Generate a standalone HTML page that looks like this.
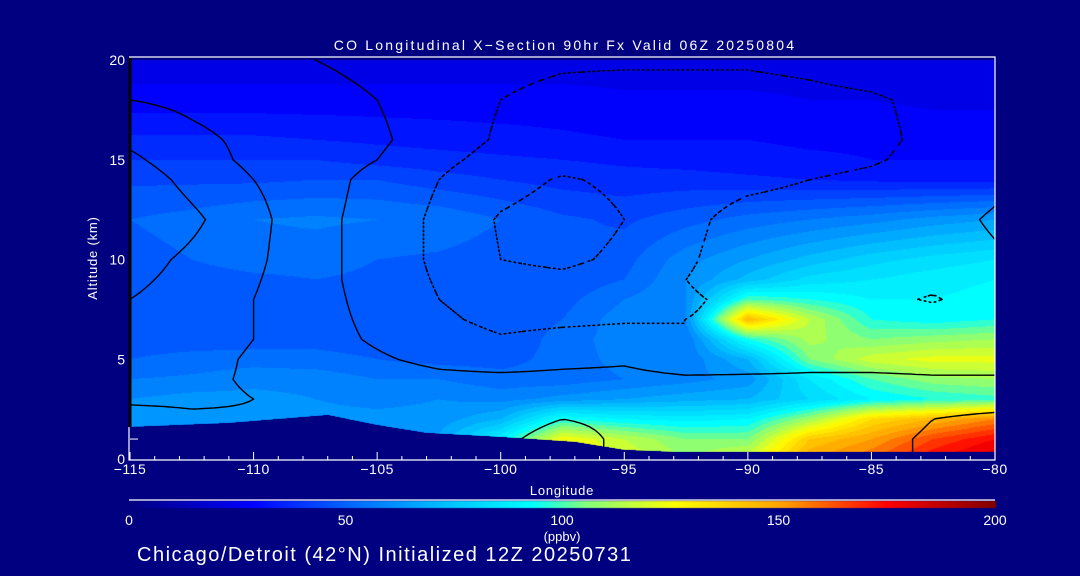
<!DOCTYPE html>
<html><head><meta charset="utf-8">
<style>
html,body{margin:0;padding:0;background:#000080;}
#wrap{position:relative;width:1080px;height:576px;background:#000080;overflow:hidden;font-family:"Liberation Sans",sans-serif;color:#fff;}
canvas{position:absolute;left:0;top:0;}
svg{position:absolute;left:0;top:0;}
</style></head>
<body>
<div id="wrap">
<canvas id="field" width="1080" height="576"></canvas>
<svg id="ov" width="1080" height="576" xmlns="http://www.w3.org/2000/svg"></svg>
</div>
<script>
const lons=[-115,-112.5,-110,-107.5,-105,-102.5,-100,-97.5,-95,-92.5,-90,-87.5,-85,-82.5,-80];
const alts=[0,1,2,3,4,5,6,7,8,9,10,12,14,15,16,18,20];
const coRows=[
[64,64,64,64,64,66,95,130,120,110,120,150,160,175,185],
[64,64,64,64,64,66,90,125,115,105,105,140,150,165,175],
[62,62,62,62,62,62,70,95,90,88,90,110,135,145,155],
[60,62,62,60,58,60,58,62,65,68,70,80,90,95,98],
[55,56,58,58,55,55,52,52,55,58,62,85,100,108,110],
[50,52,53,52,50,48,48,52,57,56,70,105,118,122,122],
[47,47,47,48,47,46,46,52,58,55,95,112,105,108,110],
[47,47,47,48,47,46,46,50,58,60,145,115,95,92,95],
[47,47,48,49,48,47,46,48,55,60,100,95,90,90,92],
[47,48,49,50,49,48,47,46,50,60,72,82,85,88,90],
[48,50,52,52,50,49,47,46,48,58,65,72,78,82,85],
[50,52,55,56,55,54,50,46,44,48,52,55,58,62,65],
[44,44,44,45,45,42,40,38,37,37,36,35,34,33,33],
[40,40,40,40,38,37,36,35,34,33,32,31,30,30,30],
[36,36,36,35,34,33,32,31,30,30,30,29,29,28,28],
[27,27,27,27,27,27,27,27,26,26,26,25,25,24,24],
[22,22,22,22,22,22,22,22,22,22,22,22,22,22,22]];
const anomRows=[
[5,6,6,6,6,6,8,14,8,4,2,2,2,-1,-3],
[5,6,6,6,6,6,8,14,8,4,2,2,2,-1,-3],
[5,8,9,8,8,8,6,10,8,6,4,3,3,0,-1],
[12,12,10,7,6,6,5,5,4,3,3,2,2,2,2],
[12,12,9,6,4,2,2,2,2,1,1,1,1,0.5,0.5],
[14,13,9,4,1,-2,-4,-2,-1,-4,-3,-2,-2,-2,-2],
[16,14,10,3,-1,-5,-9,-7,-6,-10,-6,-3,-3,-3,-3],
[18,15,10,3,-2,-8,-13,-12,-11,-10,-8,-3,-4,-5,-3],
[20,16,10,3,-3,-10,-15,-15,-13,-11,-8,-4,-7,-11,-4],
[22,17,11,3,-4,-11,-17,-18,-15,-10,-6,-4,-5,-7,-3],
[24,18,12,3,-4,-12,-20,-22,-18,-11,-6,-5,-5,-4,-1],
[30,22,13,3,-4,-12,-21,-25,-20,-12,-7,-6,-5,-3,1],
[26,17,10,4,-3,-10,-16,-21,-18,-14,-12,-10,-8,-5,-2],
[22,14,8,5,0,-8,-13,-16,-15,-14,-14,-13,-11,-7,-3],
[18,12,8,6,2,-6,-11,-13,-14,-14,-14,-13,-12,-8,-4],
[10,8,6,4,0,-6,-10,-12,-13,-13,-13,-12,-11,-8,-4],
[4,3,2,0,-3,-6,-8,-9,-9,-9,-9,-8,-6,-4,-2]];
const contourLevels=[-20,-10,0,10,20];
const terrainLons=[-115,-111,-107,-105,-103,-100,-97,-95,-93,-90,-85,-80];
const terrainAlt=[1.6,1.8,2.2,1.7,1.3,1.1,0.85,0.45,0.35,0.35,0.35,0.35];
const xTicks=[-115,-110,-105,-100,-95,-90,-85,-80];
const yTicks=[0,5,10,15,20];
const cbTicks=[0,50,100,150,200];
const cmapVals=[0,28,50,75,93,105,126,150,175,200];
const cmapCols=[[0,0,128],[0,0,255],[0,100,255],[0,200,255],[0,255,255],[128,255,128],[255,255,0],[255,165,0],[255,0,0],[128,0,0]];

const X0=130,X1=995,Y0=459,Y20=60;
const xs=l=>X0+(l+115)/35*(X1-X0);
const ys=a=>Y0-a/20*(Y0-Y20);
const lonOf=x=>-115+(x-X0)/(X1-X0)*35;
const altOf=y=>(Y0-y)/(Y0-Y20)*20;
function findIdx(arr,v){let i=0;while(i<arr.length-2&&v>arr[i+1])i++;const t=Math.max(0,Math.min(1,(v-arr[i])/(arr[i+1]-arr[i])));return[i,t];}
function bil(rows,lon,alt){const [i,tx]=findIdx(lons,lon);const [j,ty]=findIdx(alts,alt);
 const a=rows[j][i],b=rows[j][i+1],c=rows[j+1][i],d=rows[j+1][i+1];
 return (a*(1-tx)+b*tx)*(1-ty)+(c*(1-tx)+d*tx)*ty;}
function cmap(v){v=Math.max(0,Math.min(200,v));let k=0;while(k<cmapVals.length-2&&v>cmapVals[k+1])k++;
 const t=(v-cmapVals[k])/(cmapVals[k+1]-cmapVals[k]);const a=cmapCols[k],b=cmapCols[k+1];
 return [0,1,2].map(n=>Math.round(a[n]+(b[n]-a[n])*t));}
function terrain(lon){const [i,t]=findIdx(terrainLons,lon);return terrainAlt[i]*(1-t)+terrainAlt[i+1]*t;}

const cv=document.getElementById('field');const ctx=cv.getContext('2d');
const img=ctx.createImageData(X1-X0,Y0-Y20);
for(let py=0;py<Y0-Y20;py++){const alt=altOf(Y20+py+0.5);
 for(let px=0;px<X1-X0;px++){const lon=lonOf(X0+px+0.5);
  let v=bil(coRows,lon,alt);v=Math.floor(v/5)*5+2.5;
  let c=cmap(v);if(alt<terrain(lon))c=[0,0,128];
  const o=(py*(X1-X0)+px)*4;img.data[o]=c[0];img.data[o+1]=c[1];img.data[o+2]=c[2];img.data[o+3]=255;}}
ctx.putImageData(img,X0,Y20);
ctx.fillStyle='#000080';ctx.fillRect(X0,Y0-3,X1-X0,4);
for(let px=0;px<=866;px++){const c=cmap(px/866*200);ctx.fillStyle=`rgb(${c[0]},${c[1]},${c[2]})`;ctx.fillRect(129+px,501,1,7);}

const NS='http://www.w3.org/2000/svg';const ov=document.getElementById('ov');
function mk(tag,attrs,parent){const e=document.createElementNS(NS,tag);for(const k in attrs)e.setAttribute(k,attrs[k]);(parent||ov).appendChild(e);return e;}

const NX=175,NY=100;const grid=[];
for(let j=0;j<=NY;j++){grid.push([]);for(let i=0;i<=NX;i++){grid[j].push(bil(anomRows,-115+35*i/NX,20*j/NY));}}
const cg=mk('g',{});


contourLevels.forEach(L=>{
 let d='';
 const P=(i,j)=>[xs(-115+35*i/NX),ys(20*j/NY)];
 for(let j=0;j<NY;j++)for(let i=0;i<NX;i++){
  const v=[grid[j][i],grid[j][i+1],grid[j+1][i+1],grid[j+1][i]];
  const pts=[];const corners=[[i,j],[i+1,j],[i+1,j+1],[i,j+1]];
  for(let e=0;e<4;e++){const a=v[e],b=v[(e+1)%4];if((a>=L)!==(b>=L)){const t=(L-a)/(b-a);const p0=P(...corners[e]),p1=P(...corners[(e+1)%4]);pts.push([p0[0]+(p1[0]-p0[0])*t,p0[1]+(p1[1]-p0[1])*t]);}}
  for(let k=0;k+1<pts.length;k+=2)d+=`M${pts[k][0].toFixed(1)} ${pts[k][1].toFixed(1)}L${pts[k+1][0].toFixed(1)} ${pts[k+1][1].toFixed(1)}`;
 }
 const p=mk('path',{d:d,stroke:'#000','stroke-width':L<0?1.6:1.4,fill:'none','stroke-dasharray':L<0?'1.5 4':'none','stroke-linecap':'round'},cg);
 
 
});
let tp=`M${X0} ${Y0}`;for(let lon=-115;lon<=-80.001;lon+=0.25)tp+=`L${xs(lon).toFixed(1)} ${ys(terrain(lon)).toFixed(1)}`;tp+=`L${X1} ${ys(terrain(-80))}L${X1} ${Y0+1}Z`;
const ter=mk('path',{d:tp,fill:'#000080'});


const le=mk('line',{x1:130,y1:57,x2:130,y2:ys(terrain(-115)),stroke:'#000','stroke-width':3});


const fr=mk('path',{d:`M129 ${ys(terrain(-115))}L129 460L995 460L995 57L129 57`,stroke:'#fff','stroke-width':1.2,fill:'none'});


for(let l=-115;l<=-80;l++){const maj=l%5===0;const t=mk('line',{x1:xs(l),x2:xs(l),y1:460,y2:maj?452:456,stroke:'#fff','stroke-width':1});
 
 }
xTicks.forEach(l=>{const t=mk('text',{x:xs(l),y:474,'font-size':14,'text-anchor':'middle',fill:'#fff','font-family':'Liberation Sans, sans-serif','letter-spacing':'0.5'});t.textContent='\u2212'+Math.abs(l);
 
 });
yTicks.forEach(a=>{const t=mk('text',{x:125,y:ys(a)+5,'font-size':14,'text-anchor':'end',fill:'#fff','font-family':'Liberation Sans, sans-serif'});t.textContent=a;
 
 });
const yt=mk('line',{x1:130,x2:138,y1:ys(1),y2:ys(1),stroke:'#fff'});


const cbl=mk('line',{x1:129,x2:995,y1:500,y2:500,stroke:'#fff','stroke-width':1.2});


cbTicks.forEach(v=>{const t=mk('text',{x:129+v/200*866,y:525,'font-size':14,'text-anchor':'middle',fill:'#fff','font-family':'Liberation Sans, sans-serif'});t.textContent=v;
 
 });
function txt(s,x,y,fs,anchor,name,extra){const t=mk('text',Object.assign({x:x,y:y,'font-size':fs,'text-anchor':anchor,fill:'#fff','font-family':'Liberation Sans, sans-serif'},extra||{}));t.textContent=s;
 
 return t;}
txt('CO Longitudinal X\u2212Section 90hr  Fx Valid 06Z 20250804',565,50,14,'middle','chart-title',{'xml:space':'preserve','letter-spacing':'2.2'});
txt('Longitude',562,495,13,'middle','x-axis-title',{'letter-spacing':'0.8'});
txt('Altitude (km)',0,0,13,'middle','y-axis-title',{transform:'translate(97,258) rotate(-90)','letter-spacing':'0.8'});
txt('(ppbv)',562,541,13,'middle','colorbar-units');
txt('Chicago/Detroit (42\u00B0N) Initialized 12Z 20250731',137,561,20,'start','subtitle',{'letter-spacing':'1.5'});
</script>
</body></html>
